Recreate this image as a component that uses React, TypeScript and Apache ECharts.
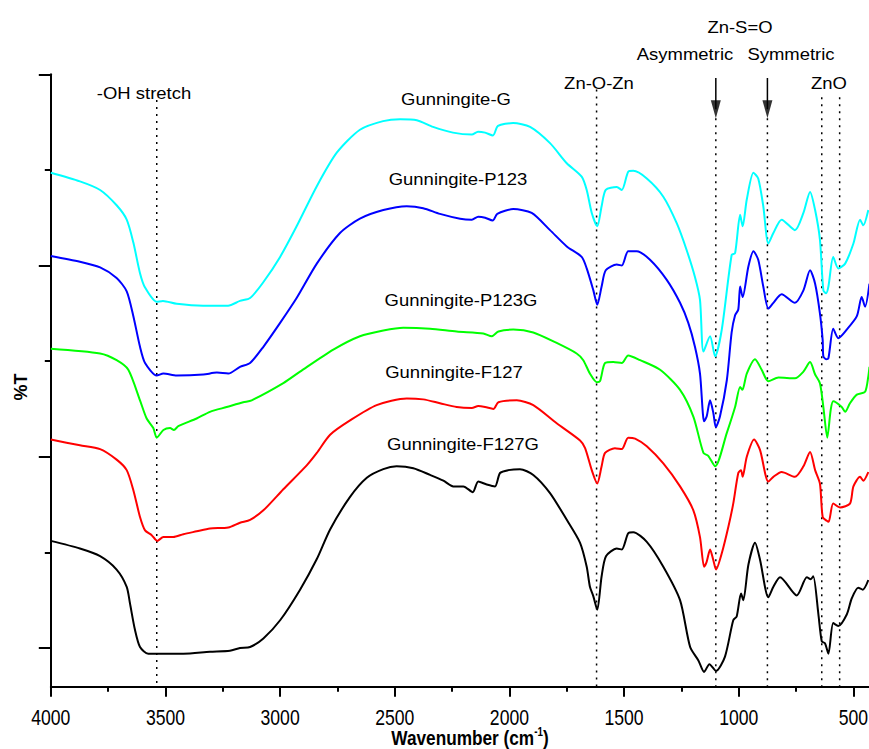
import React, { useEffect, useRef } from "react";
import * as echarts from "echarts";

// Gunningite-G (cyan)
const wnG = [4000,3873,3785,3713,3669,3640,3611,3589,3538,3511,3451,3336,3276,3227,3175,3131,3075,3000,2928,2840,2753,2652,2551,2477,2404,2333,2246,2164,2137,2106,2072,2050,1984,1910,1823,1750,1685,1663,1641,1617,1598,1580,1532,1510,1482,1460,1401,1329,1270,1227,1191,1169,1154,1125,1103,1074,1031,1016,994,983,965,936,915,893,871,849,813,755,718,689,667,646,631,619,609,588,566,536,500,471,457,435];
const tG = [49.7,48.8,47.9,46.3,44.8,42.4,39.2,37.7,36.2,36.3,36.0,35.8,35.8,35.8,36.3,36.6,38.2,40.9,44.1,48.3,51.8,54.2,55.1,55.3,55.2,54.5,53.9,53.7,54.0,53.9,53.6,54.6,54.9,54.5,52.8,50.7,49.3,47.9,45.5,44.1,46.2,47.9,48.2,47.9,49.8,49.9,49.1,47.2,44.4,41.6,38.8,36.4,31.0,32.6,30.5,33.3,41.1,41.3,45.3,44.1,46.9,49.7,49.1,46.2,42.3,43.4,44.8,43.7,45.5,47.7,45.8,42.7,37.4,37.1,37.8,40.9,39.7,40.2,42.3,44.8,44.2,45.8];

// Gunningite-P123 (blue)
const wnP = [4000,3873,3785,3713,3669,3640,3611,3589,3538,3509,3451,3335,3276,3226,3175,3131,3073,3000,2928,2840,2739,2652,2550,2448,2376,2303,2215,2164,2136,2106,2073,2053,1983,1903,1823,1750,1685,1663,1634,1617,1598,1580,1532,1510,1482,1445,1387,1314,1256,1220,1191,1169,1151,1140,1125,1111,1100,1082,1052,1031,1016,1002,994,983,958,936,915,893,871,849,813,755,718,689,667,646,634,631,619,609,588,566,529,485,464,449,430];
const tP = [41.0,40.4,39.8,38.7,37.3,34.7,31.5,29.8,28.5,28.7,28.5,28.6,28.8,28.7,29.4,29.8,31.5,34.0,36.6,40.2,43.4,44.9,45.8,46.2,46.0,45.4,44.9,44.8,45.1,45.0,44.7,45.4,45.9,45.5,43.7,42.0,40.9,39.7,37.4,35.9,37.8,39.5,40.1,40.0,41.5,41.5,40.6,38.5,36.1,34.0,31.5,28.7,23.7,24.2,25.9,24.6,23.1,24.2,28.0,33.0,34.8,35.4,37.8,36.7,39.9,41.5,40.6,37.8,35.5,36.1,37.0,36.1,37.4,39.5,38.1,35.0,32.2,30.5,30.2,30.3,33.4,32.4,33.3,34.7,36.7,35.7,38.1];

// Gunningite-P123G (green)
const wnPG = [4000,3785,3713,3662,3611,3582,3553,3538,3509,3480,3463,3444,3364,3306,3233,3161,3124,2986,2913,2768,2652,2550,2463,2346,2230,2114,2077,2048,1983,1896,1794,1707,1678,1649,1619,1605,1583,1547,1510,1482,1430,1343,1256,1198,1154,1133,1103,1052,1016,994,984,965,929,900,871,827,755,718,689,667,646,631,614,599,588,551,536,515,485,449,435,430];
const tPG = [31.3,30.8,30.1,29.1,25.9,24.0,23.0,22.0,22.8,23.0,22.8,23.2,24.0,24.7,25.2,25.7,25.9,27.7,28.9,31.2,32.6,33.2,33.5,33.4,33.1,32.9,32.6,33.1,33.3,33.0,31.9,30.8,30.1,28.7,27.8,27.9,29.8,29.9,29.8,30.6,30.1,29.1,27.0,24.2,20.4,20.1,19.0,22.5,25.2,27.3,27.0,28.7,30.2,29.1,27.9,28.3,28.2,28.9,29.9,28.6,27.7,25.2,22.0,24.9,25.8,25.2,24.7,25.6,26.5,26.8,28.4,29.4];

// Gunningite-F127 (red)
const wnF = [4000,3873,3785,3713,3669,3640,3611,3589,3560,3536,3509,3466,3422,3364,3306,3226,3175,3131,3073,2986,2884,2840,2782,2695,2579,2448,2376,2303,2230,2164,2136,2106,2070,2048,1968,1896,1794,1692,1670,1641,1617,1598,1583,1540,1510,1482,1452,1401,1329,1256,1198,1169,1151,1140,1125,1111,1099,1074,1045,1024,1002,990,983,965,933,907,871,849,813,755,718,689,667,646,634,616,608,588,558,515,500,471,457,435];
const tF = [21.8,21.2,20.8,19.7,18.6,16.5,13.7,12.3,11.8,11.2,11.6,11.6,11.9,12.2,12.5,12.6,13.1,13.4,14.4,16.6,19.1,20.4,22.3,23.8,25.4,26.1,26.0,25.6,25.2,25.1,25.3,25.2,25.0,25.7,25.9,25.4,23.5,21.7,20.9,18.6,17.2,19.0,20.4,20.9,20.8,22.0,21.9,21.1,19.3,16.9,14.4,11.6,8.5,9.0,10.3,9.2,8.2,9.9,12.7,15.1,18.3,18.6,17.9,20.0,21.8,20.7,17.4,17.9,18.4,17.9,19.0,20.5,18.6,17.2,13.7,13.3,13.2,15.1,14.7,15.1,16.9,17.9,17.5,18.4];

// Gunningite-F127G (black)
const wnFG = [4000,3873,3785,3713,3669,3655,3633,3611,3575,3509,3422,3306,3219,3175,3131,3073,3000,2913,2840,2782,2695,2622,2550,2492,2419,2346,2288,2245,2201,2160,2136,2099,2063,2041,2005,1954,1896,1823,1750,1692,1663,1649,1634,1617,1598,1579,1532,1510,1482,1460,1401,1329,1256,1212,1176,1151,1128,1099,1060,1024,1009,990,980,958,929,907,871,849,820,747,703,686,675,653,638,624,609,588,566,529,507,479,459,435];
const tFG = [11.2,10.4,9.6,8.2,6.4,4.7,1.9,0.1,-0.6,-0.6,-0.6,-0.4,-0.3,0.0,0.1,1.0,2.9,6.1,9.3,12.4,15.8,17.8,18.7,19.0,18.8,18.1,17.5,16.9,16.9,16.3,17.4,17.1,16.9,18.3,18.6,18.7,18.1,16.2,13.4,11.0,8.5,6.4,5.4,4.0,7.5,9.6,10.4,10.3,12.0,12.1,11.1,8.5,5.0,0.1,-1.3,-2.5,-1.7,-2.4,-0.9,2.9,3.3,5.7,5.0,8.7,11.0,9.2,5.3,6.4,7.4,5.5,7.4,7.2,7.5,3.6,0.7,0.5,-0.6,2.6,2.3,3.5,5.2,6.3,6.1,7.1];

// Axis ticks
const xMajorTicks = [4000, 3500, 3000, 2500, 2000, 1500, 1000, 500];
const xMinorTicks = [3750, 3250, 2750, 2250, 1750, 1250, 750];
const yMajorTicks = [0, 20, 40, 60];
const yMinorTicks = [10, 30, 50];
const X_MIN = 432;
const X_MAX = 4000;
const Y_MIN = -4.05;
const Y_MAX = 60;

// Band markers (dotted lines) and their top ends
const bandWn = [3538, 1620, 1100, 875, 638, 560];
const bandTop = [57.3, 58.4, 55.4, 55.4, 57.6, 57.6];
// Arrows for Zn-S=O
const arrowWn = [1100, 875];
const arrowFrom = 59.6;
const arrowHead = 56.35;

const seriesNames = ["Gunningite-G", "Gunningite-P123", "Gunningite-P123G", "Gunningite-F127", "Gunningite-F127G"];
const seriesColors = ["#00FFFF", "#0000FF", "#00FF00", "#FF0000", "#000000"];
const seriesX = [wnG, wnP, wnPG, wnF, wnFG];
const seriesY = [tG, tP, tPG, tF, tFG];

const FONT = "'Liberation Sans', Arial, Helvetica, sans-serif";

function annot(text: string, x: number, y: number) {
  return {
    type: "text",
    x,
    y,
    scaleX: 1.12,
    silent: true,
    style: {
      text,
      fill: "#000",
      font: `16.5px ${FONT}`,
      align: "center",
      verticalAlign: "middle",
    },
  };
}

export default function App() {
  const ref = useRef<HTMLDivElement>(null);
  useEffect(() => {
    if (!ref.current) return;
    const chart = echarts.init(ref.current, null, { renderer: "svg" });

    const curveSeries = seriesNames.map((name, i) => ({
      name,
      type: "line",
      data: seriesX[i].map((w, j) => [w, seriesY[i][j]]),
      symbol: "none",
      smooth: 0.25,
      lineStyle: { color: seriesColors[i], width: 2 },
      silent: true,
      z: 3,
    }));

    const bandSeries = bandWn.map((w, i) => ({
      type: "line",
      data: [
        [w, bandTop[i]],
        [w, Y_MIN],
      ],
      symbol: "none",
      lineStyle: { color: "#000", width: 1.5, type: [2, 5] },
      silent: true,
      z: 2,
    }));

    const shaftSeries = arrowWn.map((w) => ({
      type: "line",
      data: [
        [w, arrowFrom],
        [w, arrowHead],
      ],
      symbol: "none",
      lineStyle: { color: "#000", width: 1.5 },
      silent: true,
      z: 2,
    }));

    const headSeries = {
      type: "scatter",
      data: arrowWn.map((w) => [w, arrowHead]),
      symbol: "triangle",
      symbolRotate: 180,
      symbolSize: [10, 18],
      itemStyle: { color: "#000" },
      silent: true,
      z: 4,
    };

    const axisLineStyle = { color: "#000", width: 2 };

    chart.setOption({
      animation: false,
      backgroundColor: "#fff",
      grid: {
        left: 50.8,
        right: 0,
        top: 74.3,
        bottom: 62.3,
        containLabel: false,
        outerBoundsMode: "none",
      },
      xAxis: [
        {
          type: "value",
          inverse: true,
          min: X_MIN,
          max: X_MAX,
          axisLine: { show: true, onZero: false, lineStyle: axisLineStyle },
          axisTick: { show: true, length: 10, customValues: xMajorTicks, lineStyle: axisLineStyle },
          axisLabel: { show: false },
          splitLine: { show: false },
        },
        {
          type: "value",
          inverse: true,
          position: "bottom",
          min: X_MIN,
          max: X_MAX,
          axisLine: { show: false, onZero: false },
          axisTick: { show: true, length: 5, customValues: xMinorTicks, lineStyle: axisLineStyle },
          axisLabel: { show: false },
          splitLine: { show: false },
        },
      ],
      yAxis: [
        {
          type: "value",
          min: Y_MIN,
          max: Y_MAX,
          axisLine: { show: true, onZero: false, lineStyle: axisLineStyle },
          axisTick: { show: true, length: 12, customValues: yMajorTicks, lineStyle: axisLineStyle },
          axisLabel: { show: false },
          splitLine: { show: false },
        },
        {
          type: "value",
          position: "left",
          min: Y_MIN,
          max: Y_MAX,
          axisLine: { show: false, onZero: false },
          axisTick: { show: true, length: 6, customValues: yMinorTicks, lineStyle: axisLineStyle },
          axisLabel: { show: false },
          splitLine: { show: false },
        },
      ],
      series: [...bandSeries, ...shaftSeries, headSeries, ...curveSeries],
    });

    // Tick labels placed through the x axis scale (narrow, tall digits)
    const tickLabels = xMajorTicks.map((v) => {
      const px = chart.convertToPixel({ xAxisIndex: 0 }, v) as number;
      return {
        type: "text",
        x: px,
        y: 717.5,
        scaleX: 0.8,
        silent: true,
        style: {
          text: String(v),
          fill: "#000",
          font: `22px ${FONT}`,
          align: "center",
          verticalAlign: "middle",
        },
      };
    });

    chart.setOption({
      graphic: [
        annot("-OH stretch", 144, 93),
        annot("Gunningite-G", 456, 99),
        annot("Gunningite-P123", 458, 179),
        annot("Gunningite-P123G", 461, 300),
        annot("Gunningite-F127", 454, 372),
        annot("Gunningite-F127G", 463, 444),
        annot("Zn-O-Zn", 599, 83),
        annot("Zn-S=O", 740, 27.5),
        annot("Asymmetric", 685, 54),
        annot("Symmetric", 791, 54),
        annot("ZnO", 829, 83),
        ...tickLabels,
        {
          type: "text",
          x: 21,
          y: 387,
          rotation: Math.PI / 2,
          silent: true,
          style: {
            text: "%T",
            fill: "#000",
            font: `bold 18px ${FONT}`,
            align: "center",
            verticalAlign: "middle",
          },
        },
        {
          type: "text",
          x: 470,
          y: 737,
          scaleX: 0.82,
          silent: true,
          style: {
            text: "{a|Wavenumber (cm}{s|-1}{a|)}",
            align: "center",
            verticalAlign: "middle",
            rich: {
              a: { font: `bold 21px ${FONT}`, fill: "#000", lineHeight: 22, verticalAlign: "bottom" },
              s: { font: `bold 12px ${FONT}`, fill: "#000", lineHeight: 22, verticalAlign: "top" },
            },
          },
        },
      ],
    });
    return () => chart.dispose();
  }, []);
  return (
    <div
      ref={ref}
      style={{ position: "absolute", left: 0, top: 0, width: 869, height: 749, background: "#fff" }}
    />
  );
}
